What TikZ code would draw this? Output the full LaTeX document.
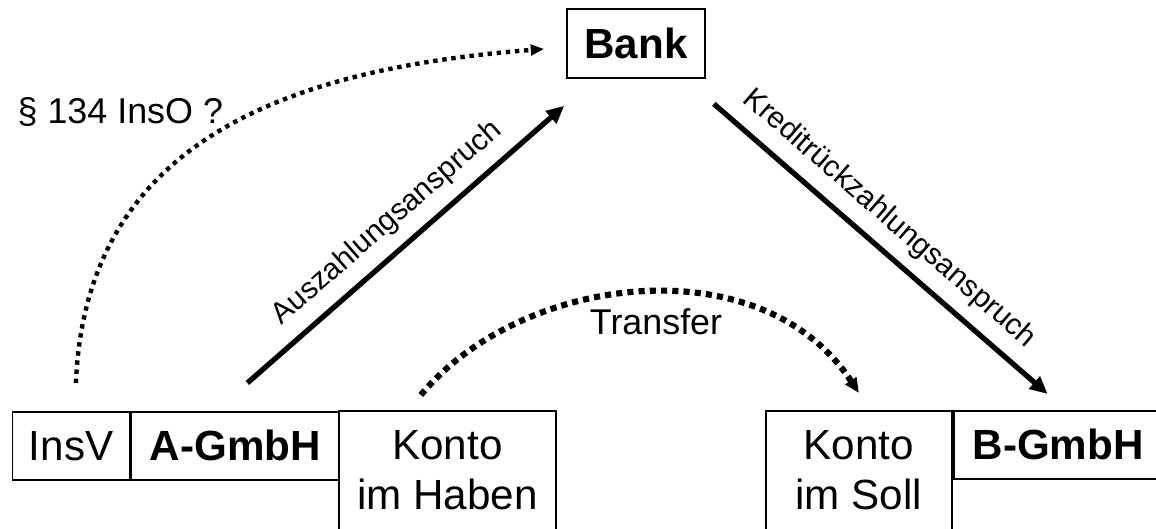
\documentclass[tikz,border=0pt]{standalone}
\usepackage{fontspec}
\setmainfont{Liberation Sans}
\usetikzlibrary{arrows.meta, positioning}

\begin{document}
\begin{tikzpicture}[
  gbox/.style={draw, line width=0.5pt, minimum height=0.68cm, inner sep=0pt,
               font=\fontsize{12}{14.2}\selectfont},
  kbox/.style={draw, line width=0.5pt, inner xsep=0pt, inner ysep=0.2cm,
               text depth=1cm, align=center, anchor=north west,
               font=\fontsize{12}{14.2}\selectfont},
  lbl/.style={font=\fontsize{8.5}{10}\selectfont},
  ptxt/.style={inner sep=0pt, font=\fontsize{10.2}{12}\selectfont},
  sarrow/.style={line width=1.5pt, -{Triangle[length=5pt, width=4.5pt]}},
  darrow/.style={line width=1.25pt, dash pattern=on 1.25pt off 1.35pt},
  tarrow/.style={line width=1.75pt, dash pattern=on 1.75pt off 1.45pt}
]
  \useasboundingbox (0,0) rectangle (11.56,5.29);
  \clip (0,0) rectangle (11.56,5.29);

  % Bank
  \node[gbox, font=\fontsize{12}{14.2}\selectfont\bfseries, minimum width=1.38cm,
        minimum height=0.69cm] (bank) at (6.36, 4.855) {Bank};

  % left side
  \node[gbox, minimum width=1.17cm, anchor=north west] (insv) at (0.117, 1.18) {InsV};
  \node[gbox, font=\fontsize{12}{14.2}\selectfont\bfseries, minimum width=2.08cm,
        right=0pt of insv] (agmbh) {A-GmbH};
  \node[kbox, minimum width=2.17cm] (kontoH) at (3.38, 1.19) {Konto\\im Haben};

  % right side
  \node[kbox, minimum width=1.86cm] (kontoS) at (7.65, 1.19) {Konto\\im Soll};
  \node[gbox, font=\fontsize{12}{14.2}\selectfont\bfseries, minimum width=2.09cm,
        anchor=north west] (bgmbh) at (kontoS.north east) {B-GmbH};

  % claims
  \draw[sarrow] ([shift={(0.12,0.28)}]agmbh.north)
    -- node[lbl, sloped, above] {Auszahlungsanspruch}
    ([shift={(-0.02,-0.27)}]bank.south west);
  \draw[sarrow] ([shift={(0.08,-0.25)}]bank.south east)
    -- node[lbl, sloped, above, pos=0.47] {Kreditrückzahlungsanspruch}
    ([shift={(-0.105,0.16)}]bgmbh.north);

  % dotted arrows
  \draw[darrow, -{Triangle[length=3.8pt, width=3pt]}]
    ([shift={(0.048,0.28)}]insv.north) .. controls +(0.1,2.4) and +(-2.6,-0.2)
    .. ([shift={(-0.22,-0.055)}]bank.west);
  \draw[tarrow, -{Triangle[length=4.2pt, width=3.6pt]}]
    ([shift={(-0.265,0.15)}]kontoH.north) .. controls +(1.0,1.21) and +(-0.98,1.49)
    .. ([shift={(0,0.17)}]kontoS.north);

  \node[ptxt, anchor=base west] (insolabel) at (0.17, 4.05) {§ 134 InsO ?};
  \node[ptxt, anchor=base] (transferlabel) at (6.56, 1.94) {Transfer};
\end{tikzpicture}
\end{document}
